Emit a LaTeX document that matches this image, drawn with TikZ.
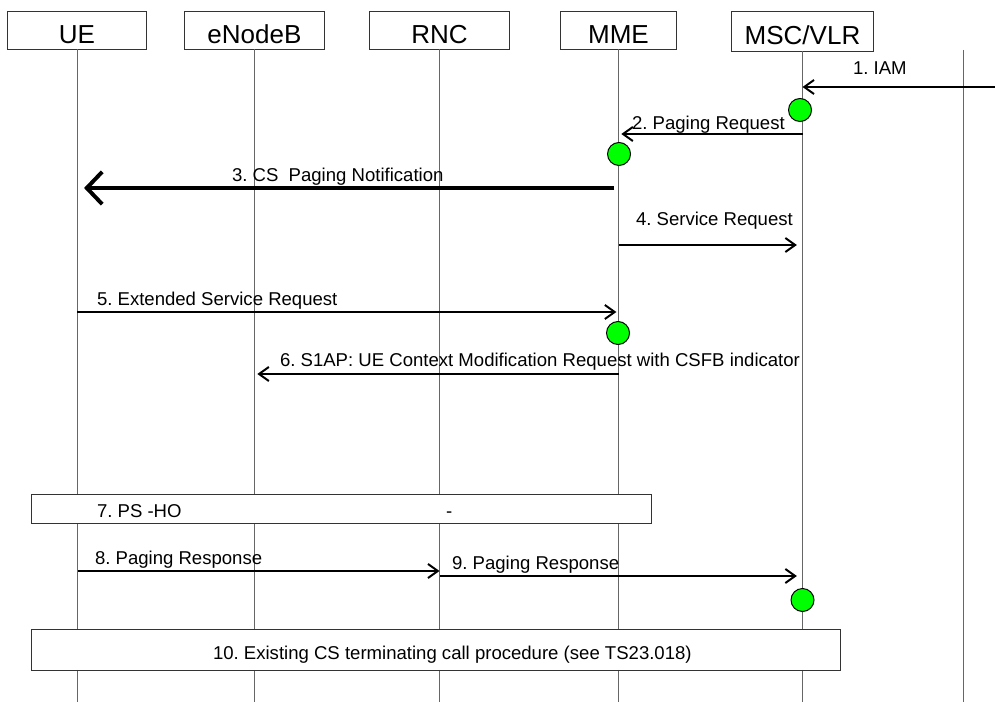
\documentclass[tikz,border=0pt]{standalone}
\usepackage{fontspec}
\setmainfont{Liberation Sans}
\usetikzlibrary{arrows.meta}
\frenchspacing

\begin{document}
\begin{tikzpicture}[x=0.025cm,y=-0.025cm,
  every node/.style={inner sep=0pt, outer sep=0pt, font=\fontsize{13.2}{15}\selectfont},
  entity/.style={draw=black!80, line width=0.7pt, fill=white, minimum height=0.95cm,
    text height=18.5pt, text depth=0pt, font=\fontsize{18.5}{20}\selectfont},
  life/.style={draw=black!60, line width=0.7pt},
  msg/.style={line width=1.4pt, -{Straight Barb[length=7pt,width=10pt]}},
  bigmsg/.style={line width=2.8pt, -{Straight Barb[length=11pt,width=23pt]}},
  greendot/.style={circle, draw=black, fill=green, line width=0.7pt, minimum size=0.575cm},
  procbox/.style={draw=black!80, fill=white, line width=0.7pt},
  lbl/.style={anchor=base west}]

\useasboundingbox (0,0) rectangle (995,702);

% entities
\node[entity, minimum width=3.45cm] (ue) at (77,30) {UE};
\node[entity, minimum width=3.475cm] (enb) at (254.5,30) {eNodeB};
\node[entity, minimum width=3.475cm] (rnc) at (439.5,30) {RNC};
\node[entity, minimum width=2.875cm] (mme) at (618.5,30) {MME};
\node[entity, minimum width=3.525cm, minimum height=0.975cm] (msc) at (802.5,31.5) {MSC/VLR};

% lifelines
\coordinate (bot) at (0,702);
\coordinate (ext) at (963,50);
\draw[life] (ue.south) -- (ue.south |- bot);
\draw[life] (enb.south) -- (enb.south |- bot);
\draw[life] (rnc.south) -- (rnc.south |- bot);
\draw[life] (mme.south) -- (mme.south |- bot);
\draw[life] (msc.south) -- (msc.south |- bot);
\draw[life] (ext) -- (ext |- bot);

% procedure boxes
\node[procbox, minimum width=15.475cm, minimum height=0.725cm] (ho) at (341.5,508.5) {};
\node[procbox, minimum width=20.2cm, minimum height=1.025cm] (call) at (436,649.5) {};
\node[lbl] (holbl) at (97,517) {7. PS -HO};
\node[lbl] (hodash) at (446,517) {-};
\node[lbl] (calllbl) at (213,659) {10. Existing CS terminating call procedure (see TS23.018)};

% messages
\coordinate (iam) at (995,87);
\draw[msg] (iam) -- (msc.south |- iam);
\node[lbl] (m1) at (853,75) {1. IAM};

\draw[msg, shorten >=2pt] (msc.south |- 0,134) -- (mme.south |- 0,134);
\node[lbl] (m2) at (632,130) {2. Paging Request};

\draw[bigmsg, shorten <=3pt, shorten >=5pt] (mme.south |- 0,188) -- (ue.south |- 0,188);
\node[lbl] (m3) at (232,182) {3. CS\ \ Paging Notification};

\draw[msg, shorten >=4pt] (mme.south |- 0,245) -- (msc.south |- 0,245);
\node[lbl] (m4) at (636,226) {4. Service Request};

\draw[msg, shorten >=1.5pt] (ue.south |- 0,312) -- (mme.south |- 0,312);
\node[lbl] (m5) at (97,306) {5. Extended Service Request};

\draw[msg, shorten >=2pt] (mme.south |- 0,374) -- (enb.south |- 0,374);
\node[lbl] (m6) at (280,367) {6. S1AP: UE Context Modification Request with CSFB indicator};

\draw[msg, shorten <=1pt] (ue.south |- 0,571) -- (rnc.south |- 0,571);
\node[lbl] (m8) at (95,564) {8. Paging Response};

\draw[msg, shorten >=4pt] (rnc.south |- 0,576) -- (msc.south |- 0,576);
\node[lbl] (m9) at (452,569) {9. Paging Response};

% state markers
\node[greendot] (s1) at (800,110) {};
\node[greendot] (s2) at (619,154) {};
\node[greendot] (s3) at (618,333) {};
\node[greendot] (s4) at (802.5,600) {};
\end{tikzpicture}
\end{document}
